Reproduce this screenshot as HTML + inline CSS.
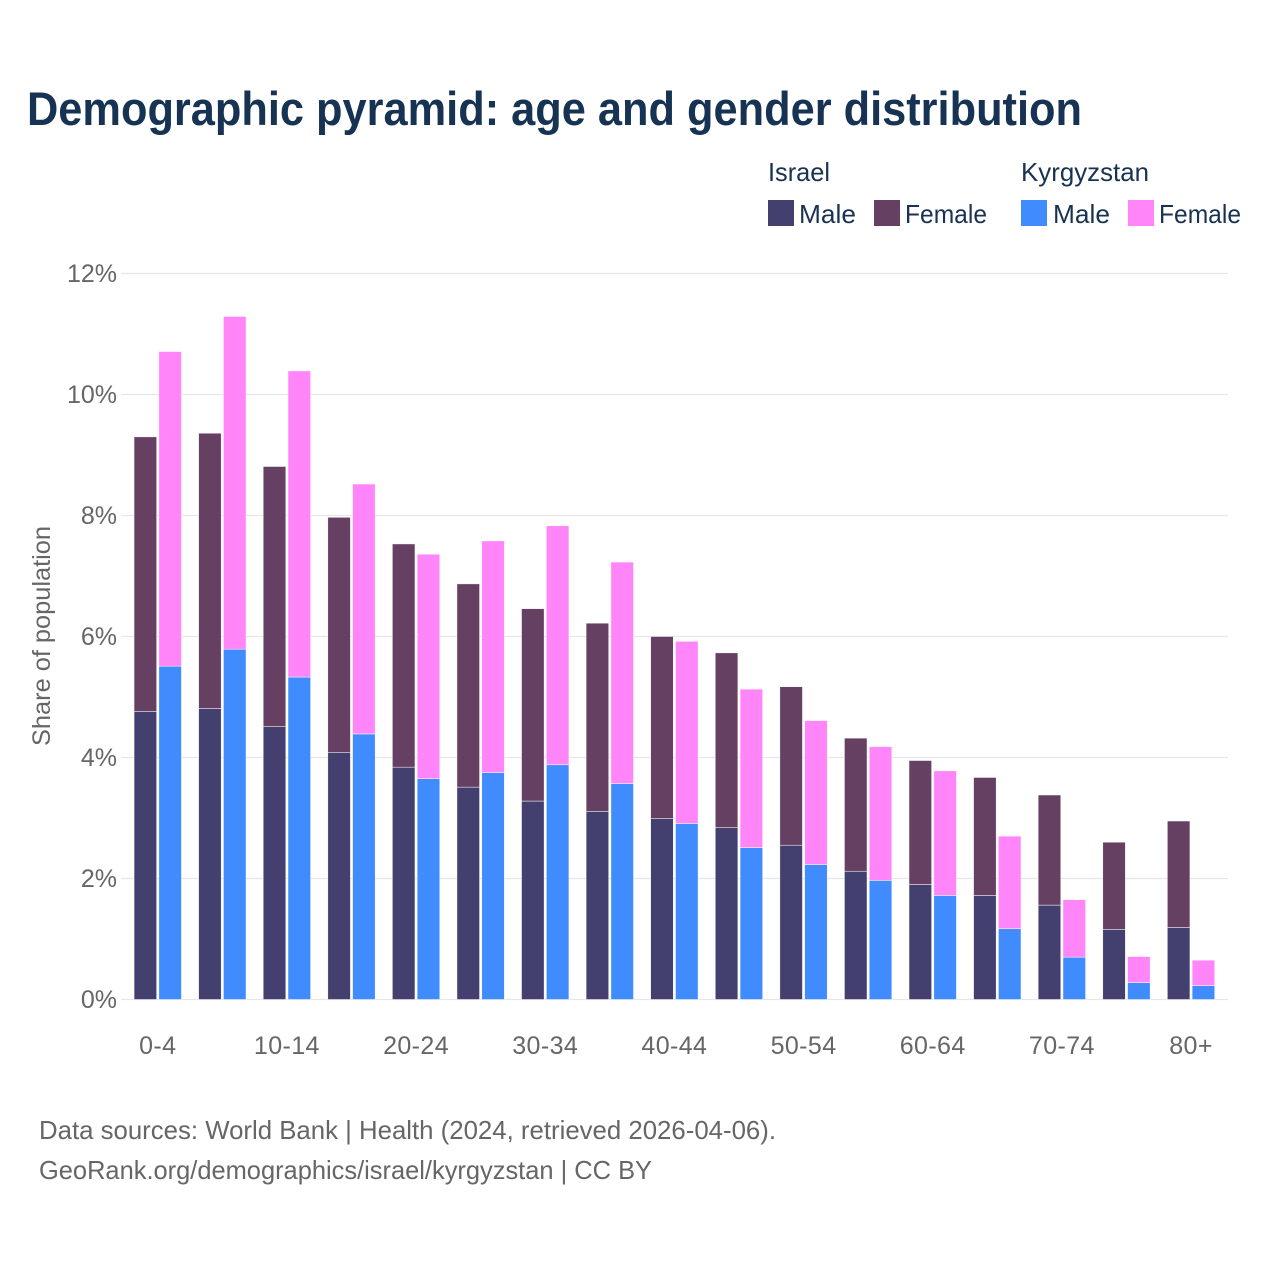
<!DOCTYPE html>
<html lang="en">
<head>
<meta charset="utf-8">
<title>Demographic pyramid: age and gender distribution</title>
<style>
html,body{margin:0;padding:0;background:#fff;width:1280px;height:1280px;overflow:hidden}
svg{display:block;font-family:"Liberation Sans",sans-serif}
</style>
</head>
<body>
<svg id="chart" xmlns="http://www.w3.org/2000/svg" width="1280" height="1280" viewBox="0 0 1280 1280">
  <rect x="0" y="0" width="1280" height="1280" fill="#ffffff"/>
  <text x="27" y="125" font-size="47" font-weight="700" fill="#173354" textLength="1055" lengthAdjust="spacingAndGlyphs">Demographic pyramid: age and gender distribution</text>

  <g font-size="26" fill="#1a3252">
    <text x="768" y="181" textLength="62" lengthAdjust="spacingAndGlyphs">Israel</text>
    <text x="1021" y="181" textLength="128" lengthAdjust="spacingAndGlyphs">Kyrgyzstan</text>
    <rect x="768" y="200" width="26" height="26" fill="#434070"/>
    <text x="799" y="223" textLength="57" lengthAdjust="spacingAndGlyphs">Male</text>
    <rect x="874" y="200" width="26" height="26" fill="#664063"/>
    <text x="905" y="223" textLength="82" lengthAdjust="spacingAndGlyphs">Female</text>
    <rect x="1021" y="200" width="26" height="26" fill="#408cff"/>
    <text x="1053" y="223" textLength="57" lengthAdjust="spacingAndGlyphs">Male</text>
    <rect x="1128" y="200" width="26" height="26" fill="#ff85f9"/>
    <text x="1159" y="223" textLength="82" lengthAdjust="spacingAndGlyphs">Female</text>
  </g>

  <g id="grid"></g>
  <g id="yticks"></g>
  <g id="bars"></g>
  <g id="xticks"></g>

  <text transform="translate(50,746) rotate(-90)" x="0" y="0" font-size="25" fill="#666666" textLength="220" lengthAdjust="spacingAndGlyphs">Share of population</text>

  <text x="39" y="1139" font-size="26" fill="#666666" textLength="737" lengthAdjust="spacingAndGlyphs">Data sources: World Bank | Health (2024, retrieved 2026-04-06).</text>
  <text x="39" y="1179" font-size="26" fill="#666666" textLength="613" lengthAdjust="spacingAndGlyphs">GeoRank.org/demographics/israel/kyrgyzstan | CC BY</text>
</svg>
<script>
const categories = ["0-4","5-9","10-14","15-19","20-24","25-29","30-34","35-39","40-44","45-49","50-54","55-59","60-64","65-69","70-74","75-79","80+"];
const israelMale = [4.76,4.81,4.51,4.08,3.84,3.51,3.28,3.11,2.99,2.84,2.55,2.12,1.90,1.72,1.56,1.16,1.19];
const israelFemale = [4.54,4.55,4.30,3.89,3.69,3.36,3.18,3.11,3.01,2.89,2.62,2.20,2.05,1.95,1.82,1.44,1.76];
const kyrgyzstanMale = [5.51,5.79,5.33,4.39,3.65,3.75,3.88,3.57,2.91,2.51,2.23,1.97,1.72,1.17,0.70,0.28,0.23];
const kyrgyzstanFemale = [5.20,5.50,5.06,4.13,3.71,3.83,3.95,3.66,3.01,2.62,2.38,2.21,2.06,1.53,0.95,0.43,0.42];
const yTickValues = [0,2,4,6,8,10,12];

const NS = "http://www.w3.org/2000/svg";
const yScale = function (v) { return 999.5 - v * 60.5; };
const xCenter = function (i) { return 157.75 + i * 64.58; };
const BAR_W = 22.6;
const BAR_GAP = 2.2;

function make(tag, attrs, parent, text) {
  const el = document.createElementNS(NS, tag);
  Object.keys(attrs).forEach(function (k) { el.setAttribute(k, attrs[k]); });
  if (text !== undefined) el.textContent = text;
  parent.appendChild(el);
  return el;
}

const gridG = document.getElementById("grid");
const yTickG = document.getElementById("yticks");
yTickValues.forEach(function (v) {
  const line = make("line", {x1: 121, x2: 1228, y1: yScale(v), y2: yScale(v), stroke: "#e6e6ec", "stroke-width": 1.2}, gridG);
  
  
  const label = make("text", {x: 117, y: yScale(v) + 8.5, "text-anchor": "end", "font-size": 25, fill: "#666666"}, yTickG, v + "%");
  
  
});

const barsG = document.getElementById("bars");
function drawBar(x, bottom, value, color, name) {
  const top = bottom + value;
  const rect = make("rect", {x: x, y: yScale(top), width: BAR_W, height: yScale(bottom) - yScale(top), fill: color, stroke: "#ffffff", "stroke-width": 0.6, "stroke-opacity": 0.8}, barsG);
  
  
}

categories.forEach(function (cat, i) {
  const cx = xCenter(i);
  const xIsrael = cx - BAR_GAP / 2 - BAR_W;
  const xKyrgyz = cx + BAR_GAP / 2;
  drawBar(xIsrael, 0, israelMale[i], "#434070", "bar-israel-male");
  drawBar(xIsrael, israelMale[i], israelFemale[i], "#664063", "bar-israel-female");
  drawBar(xKyrgyz, 0, kyrgyzstanMale[i], "#408cff", "bar-kyrgyzstan-male");
  drawBar(xKyrgyz, kyrgyzstanMale[i], kyrgyzstanFemale[i], "#ff85f9", "bar-kyrgyzstan-female");
  if (i % 2 === 0) {
    const tick = make("text", {x: cx, y: 1054, "text-anchor": "middle", "font-size": 25, "letter-spacing": 0.4, fill: "#666666"}, document.getElementById("xticks"), cat);
    
    
  }
});
</script>
</body>
</html>
